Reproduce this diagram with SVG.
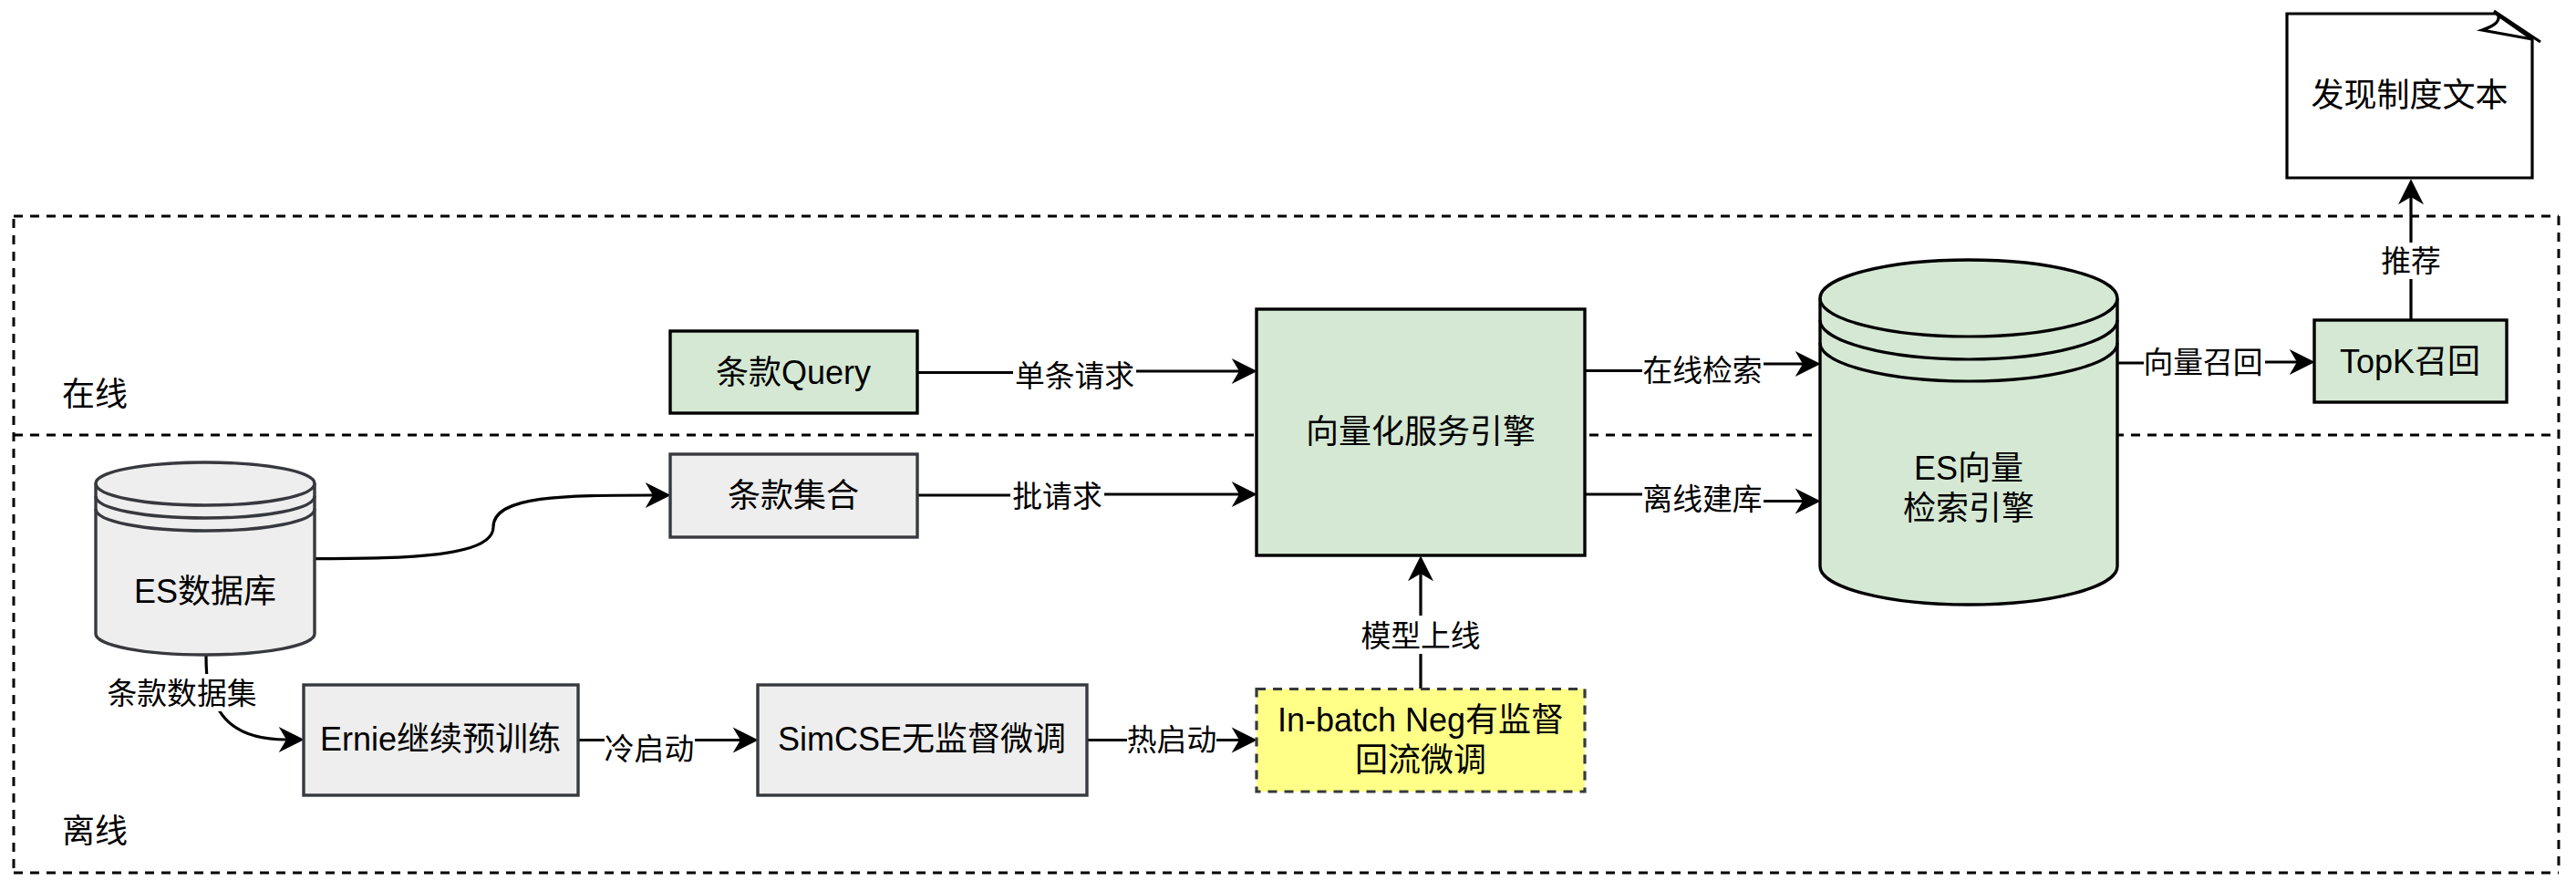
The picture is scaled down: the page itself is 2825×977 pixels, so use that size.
<svg xmlns="http://www.w3.org/2000/svg" width="2825" height="977" viewBox="0 0 2825 977">
<style>
text{font-family:"Liberation Sans","Noto Sans CJK SC",sans-serif;fill:#000;text-anchor:middle;dominant-baseline:central}
.n{font-size:36px}
.e{font-size:32.8px}
.z{fill:none;stroke:#000;stroke-width:3;stroke-dasharray:10 8}
.g{fill:#d5e8d4;stroke:#000;stroke-width:3.4}
.h{fill:#eeeeee;stroke:#36393d;stroke-width:3.4}
.l{fill:none;stroke:#36393d;stroke-width:3.4}
.y{fill:#ffff88;stroke:#36393d;stroke-width:3.2;stroke-dasharray:10 8}
.c{fill:none;stroke:#000;stroke-width:3.2}
.w{fill:#fff;stroke:none}
</style>
<defs>
<marker id="arr" markerUnits="userSpaceOnUse" markerWidth="28" markerHeight="28" viewBox="0 0 27 27" refX="8" refY="13.5" orient="auto" overflow="visible">
<path d="M0,0 L27,13.5 L0,27 L8,13.5 Z" fill="#000"/>
</marker>
</defs>
<rect width="2825" height="977" fill="#fff"/>
<g id="zones">
<path class="z" d="M15,237 H2806"/>
<path class="z" d="M15,477 H2806"/>
<path class="z" d="M15,957 H2806"/>
<path class="z" d="M15,240 V957"/>
<path class="z" d="M2806,237 V957"/>
<text class="n" x="104" y="432">在线</text>
<text class="n" x="104" y="911">离线</text>
</g>
<g id="connectors">
<path class="c" marker-end="url(#arr)" d="M1006,408.5 L1179,408.5 L1179,407 L1359,407"/>
<path class="c" marker-end="url(#arr)" d="M1006,543 L1160,543 L1160,542 L1359,542"/>
<path class="c" marker-end="url(#arr)" d="M1738,406.5 L1867,406.5 L1867,399 L1977,399"/>
<path class="c" marker-end="url(#arr)" d="M1738,542 L1867,542 L1867,549.5 L1977,549.5"/>
<path class="c" marker-end="url(#arr)" d="M2322,398 L2416,398 L2416,397 L2519,397"/>
<path class="c" marker-end="url(#arr)" d="M2644,351 L2644,216"/>
<path class="c" marker-end="url(#arr)" d="M1558,755 L1558,629"/>
<path class="c" marker-end="url(#arr)" d="M634,811.5 L812,811.5"/>
<path class="c" marker-end="url(#arr)" d="M1192,811.5 L1359,811.5"/>
<path class="c" marker-end="url(#arr)" d="M345,612.7 C440,612 541,612 541,578 C541,543 620,543 716,543"/>
<path class="c" marker-end="url(#arr)" d="M226,719 C226,745 228,763 241,780 C254,801 280,811 314,811"/>
<rect class="w" x="1111" y="390" width="135" height="42"/>
<text class="e" x="1178.5" y="412">单条请求</text>
<rect class="w" x="1108" y="522" width="103" height="42"/>
<text class="e" x="1159.5" y="544">批请求</text>
<rect class="w" x="1801" y="384" width="133" height="42"/>
<text class="e" x="1867" y="406">在线检索</text>
<rect class="w" x="1801" y="525" width="133" height="42"/>
<text class="e" x="1867" y="547">离线建库</text>
<rect class="w" x="2351" y="375" width="133" height="42"/>
<text class="e" x="2416" y="397">向量召回</text>
<rect class="w" x="2609" y="266" width="70" height="40"/>
<text class="e" x="2644" y="286.5">推荐</text>
<rect class="w" x="1492" y="675" width="132" height="42"/>
<text class="e" x="1558" y="697.5">模型上线</text>
<rect class="w" x="663" y="799" width="99" height="42"/>
<text class="e" x="712" y="821">冷启动</text>
<rect class="w" x="1236" y="789" width="98" height="42"/>
<text class="e" x="1285" y="811">热启动</text>
<rect class="w" x="115" y="739" width="170" height="41"/>
<text class="e" x="199.5" y="760">条款数据集</text>
</g>
<g id="node-query">
<rect class="g" x="735" y="363" width="271" height="90"/>
<text class="n" x="870" y="408">条款Query</text>
</g>
<g id="node-clauses">
<rect class="h" x="735" y="498" width="271" height="91"/>
<text class="n" x="870" y="543">条款集合</text>
</g>
<g id="node-engine">
<rect class="g" x="1378" y="339" width="360" height="270"/>
<text class="n" x="1558" y="473">向量化服务引擎</text>
</g>
<g id="node-esdb">
<path class="h" d="M105,530 C105,517 159,507 225,507 C291,507 345,517 345,530 V695 C345,708 291,718 225,718 C159,718 105,708 105,695 Z"/>
<path class="l" d="M105,530 C105,544 159,554 225,554 C291,554 345,544 345,530 M105,544 C105,558 159,568 225,568 C291,568 345,558 345,544 M105,558 C105,572 159,582 225,582 C291,582 345,572 345,558"/>
<text class="n" x="225" y="648">ES数据库</text>
</g>
<g id="node-esvec">
<path class="g" d="M1996,327 C1996,304 2069,285 2159,285 C2249,285 2322,304 2322,327 V621 C2322,644 2249,663 2159,663 C2069,663 1996,644 1996,621 Z"/>
<path class="c" d="M1996,327 C1996,350 2069,369 2159,369 C2249,369 2322,350 2322,327 M1996,351 C1996,374 2069,394 2159,394 C2249,394 2322,374 2322,351 M1996,376 C1996,399 2069,418 2159,418 C2249,418 2322,399 2322,376"/>
<text class="n" x="2159" y="513">ES向量</text>
<text class="n" x="2159" y="557">检索引擎</text>
</g>
<g id="node-topk">
<rect class="g" x="2538" y="351" width="211" height="90"/>
<text class="n" x="2643" y="396">TopK召回</text>
</g>
<g id="node-ernie">
<rect class="h" x="333" y="751" width="301" height="121"/>
<text class="n" x="483" y="810">Ernie继续预训练</text>
</g>
<g id="node-simcse">
<rect class="h" x="831" y="751" width="361" height="121"/>
<text class="n" x="1011" y="810">SimCSE无监督微调</text>
</g>
<g id="node-inbatch">
<rect class="y" x="1378" y="755.5" width="360" height="112.5"/>
<text class="n" x="1558" y="789">In-batch Neg有监督</text>
<text class="n" x="1558" y="833">回流微调</text>
</g>
<g id="node-doc">
<path fill="#fff" stroke="#000" stroke-width="3.2" d="M2508,15 H2737 L2777,43 V195 H2508 Z"/>
<path fill="none" stroke="#000" stroke-width="3.2" d="M2735,12 L2786,46 M2777,43 L2722,33 C2733,29 2741,25 2740,18"/>
<text class="n" x="2642.5" y="104">发现制度文本</text>
</g>
</svg>
